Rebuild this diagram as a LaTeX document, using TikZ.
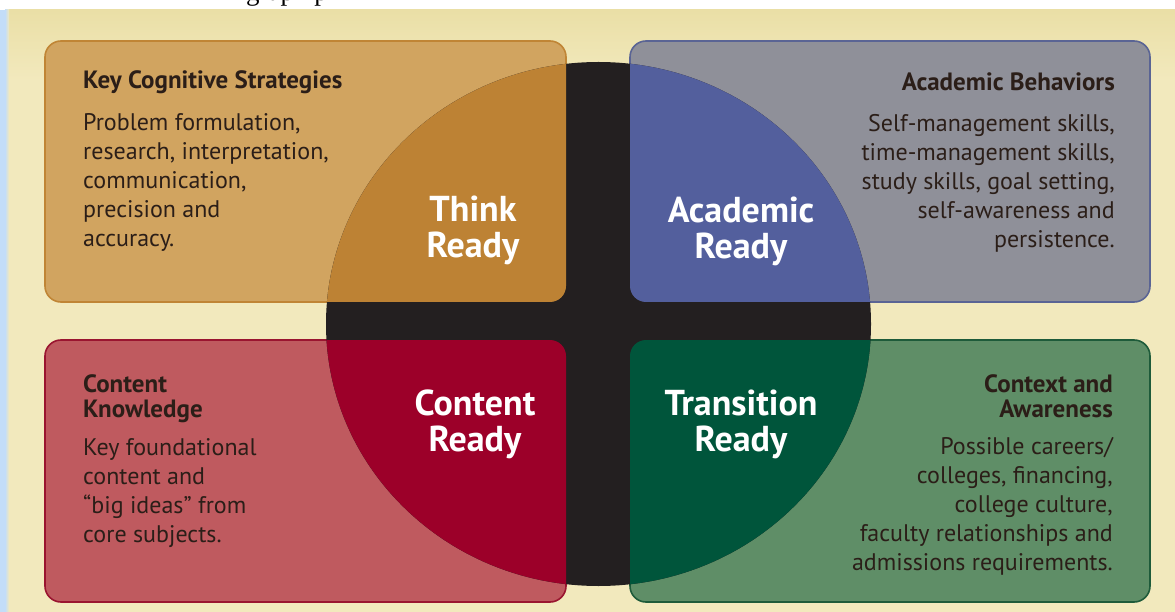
\documentclass[tikz,border=0pt]{standalone}
\usepackage{fontspec}
\setmainfont{PT Sans}
\newfontfamily\rdyserif{Liberation Serif}
\definecolor{rdycream}{HTML}{F2E9BD}
\definecolor{rdycreamtop}{HTML}{EADFA6}
\definecolor{rdyblue}{HTML}{C3DDF8}
\definecolor{rdyblack}{HTML}{231F20}
\definecolor{rdytext}{HTML}{2B1E18}
\definecolor{thinklight}{HTML}{D1A460}
\definecolor{thinkdark}{HTML}{BD8234}
\definecolor{thinkline}{HTML}{C08535}
\definecolor{acadlight}{HTML}{8F9099}
\definecolor{acaddark}{HTML}{535F9D}
\definecolor{acadline}{HTML}{5A6494}
\definecolor{contlight}{HTML}{BF5A5F}
\definecolor{contdark}{HTML}{9C0029}
\definecolor{contline}{HTML}{9A1530}
\definecolor{tranlight}{HTML}{5F8E67}
\definecolor{trandark}{HTML}{00553B}
\definecolor{tranline}{HTML}{1E5B3A}

\begin{document}
\begin{tikzpicture}[x=1pt,y=-1pt,
  every node/.style={inner sep=0pt},
  panel/.style={rounded corners=16pt, line width=1.6pt},
  boxtitle/.style={font=\fontsize{25}{25}\selectfont\bfseries, text=rdytext},
  boxbody/.style={font=\fontsize{24}{29}\selectfont, text=rdytext},
  readylabel/.style={font=\fontsize{36}{36}\selectfont\bfseries, text=white, align=center}]
\useasboundingbox (0,0) rectangle (1175,612);
\fill[white] (0,0) rectangle (1175,612);
\shade[top color=rdycreamtop, bottom color=rdycream] (6,10) rectangle (1175,80);
\fill[rdycream] (6,80) rectangle (1175,612);
\fill[rdyblue] (0,10) rectangle (5,612);
\shade[left color=rdyblue, right color=rdycream] (5,10) rectangle (9,612);

% caption cut off by the page edge
\begin{scope}
  \clip (0,0) rectangle (1175,10);
  \node[anchor=base west, font=\rdyserif\fontsize{27}{27}\selectfont] (caption) at (246,1) {graph p};
\end{scope}

% the four panels
\filldraw[panel, fill=thinklight, draw=thinkline] (45,41) rectangle (566,302);
\filldraw[panel, fill=acadlight, draw=acadline] (630,41) rectangle (1150,302);
\filldraw[panel, fill=contlight, draw=contline] (45,340) rectangle (566,602);
\filldraw[panel, fill=tranlight, draw=tranline] (630,340) rectangle (1150,602);

% disc and its coloured quarters
\fill[rdyblack] (598.5,324) ellipse [x radius=272.5pt, y radius=262pt];
\foreach \bx/\by/\ex/\ey/\col in {45/41/566/302/thinkdark, 630/41/1150/302/acaddark,
    45/340/566/602/contdark, 630/340/1150/602/trandark} {
  \begin{scope}
    \clip[rounded corners=16pt] (\bx,\by) rectangle (\ex,\ey);
    \fill[\col] (598.5,324) ellipse [x radius=272.5pt, y radius=262pt];
  \end{scope}
}

\node[boxtitle, anchor=west] (kcstitle) at (83,82) {Key Cognitive Strategies};
\node[boxbody, anchor=north west, align=left] (kcsbody) at (83,113) {Problem formulation,\\research, interpretation,\\communication,\\precision and\\accuracy.};

\node[boxtitle, anchor=east] (abtitle) at (1115,82) {Academic Behaviors};
\node[boxbody, anchor=north east, align=right] (abbody) at (1115,114) {Self-management skills,\\time-management skills,\\study skills, goal setting,\\self-awareness and\\persistence.};

\node[boxtitle, anchor=north west, align=left] (cktitle) at (83,374) {Content\\Knowledge};
\node[boxbody, anchor=north west, align=left] (ckbody) at (83,438) {Key foundational\\content and\\“big ideas” from\\core subjects.};

\node[boxtitle, anchor=north east, align=right] (catitle) at (1113,374) {Context and\\Awareness};
\node[boxbody, anchor=north east, align=right] (cabody) at (1113,437) {Possible careers/\\colleges, financing,\\college culture,\\faculty relationships and\\admissions requirements.};

\node[readylabel] (think) at (473,230) {Think\\Ready};
\node[readylabel] (academic) at (741,231) {Academic\\Ready};
\node[readylabel] (content) at (475,424) {Content\\Ready};
\node[readylabel] (transition) at (741,424) {Transition\\Ready};
\end{tikzpicture}
\end{document}
